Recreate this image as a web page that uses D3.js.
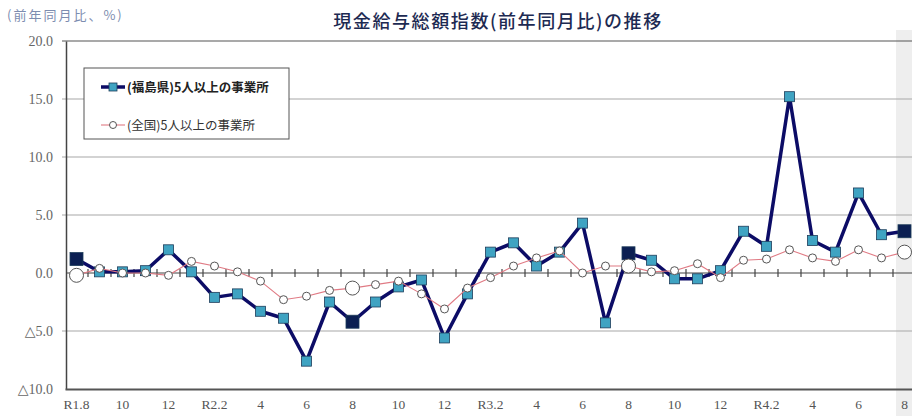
<!DOCTYPE html>
<html>
<head>
<meta charset="utf-8">
<script src="https://cdn.jsdelivr.net/npm/d3@7"></script>
<style>
  html, body { margin: 0; padding: 0; background: #fff; }
  svg { display: block; }
</style>
</head>
<body>
<svg id="chart" width="912" height="416"></svg>
<script>
// Months from R1.8 (Aug 2019) to R4.8 (Aug 2022)
const periods = d3.range(37);
const tickLabels = ["R1.8","10","12","R2.2","4","6","8","10","12","R3.2","4","6","8","10","12","R4.2","4","6","8"];

// Year-on-year change of total cash earnings index (%)
const fukushima = [1.2,0.1,0.1,0.2,2.0,0.1,-2.1,-1.8,-3.3,-3.9,-7.6,-2.5,-4.2,-2.5,-1.2,-0.6,-5.6,-1.8,1.8,2.6,0.6,1.8,4.3,-4.3,1.7,1.1,-0.5,-0.5,0.2,3.6,2.3,15.2,2.8,1.8,6.9,3.3,3.6];
const national  = [-0.2,0.4,0.0,0.0,-0.2,1.0,0.6,0.1,-0.7,-2.3,-2.0,-1.5,-1.3,-1.0,-0.7,-1.8,-3.1,-1.3,-0.4,0.6,1.3,1.9,0.0,0.6,0.6,0.1,0.2,0.8,-0.4,1.1,1.2,2.0,1.3,1.0,2.0,1.3,1.8];

const yTicks = [-10, -5, 0, 5, 10, 15, 20];
const seriesNames = ["(福島県)5人以上の事業所", "(全国)5人以上の事業所"];

const svg = d3.select("#chart");
const jp = "'Noto Sans CJK JP', 'Noto Sans', sans-serif";
const serif = "'Liberation Serif', 'DejaVu Serif', serif";

const x = d3.scaleBand().domain(periods).range([65, 916]).padding(0);
const cx = i => x(i) + x.bandwidth() / 2;
const y = d3.scaleLinear().domain([-10, 20]).range([389, 41]);

// light strip at the right edge
svg.append("rect").attr("x", 896).attr("y", 30).attr("width", 16).attr("height", 386).attr("fill", "#eeeeee");

// title and unit
svg.append("text").attr("x", 498).attr("y", 28).attr("text-anchor", "middle")
  .attr("font-family", jp).attr("font-size", 18).attr("font-weight", 500).attr("fill", "#1d2a52")
  .attr("letter-spacing", 1.6)
  .text("現金給与総額指数(前年同月比)の推移");
svg.append("text").attr("x", 7).attr("y", 20)
  .attr("font-family", jp).attr("font-size", 13).attr("fill", "#7d8db0")
  .attr("letter-spacing", 2)
  .text("(前年同月比、%)");

// horizontal gridlines
svg.append("g").selectAll("line").data(yTicks.filter(v => v !== 0 && v !== -10 && v !== 20)).join("line")
  .attr("x1", 62).attr("x2", 916).attr("y1", d => y(d)).attr("y2", d => y(d))
  .attr("stroke", "#a8a8a8").attr("stroke-width", 1.2);
// top border
svg.append("line").attr("x1", 62).attr("x2", 916).attr("y1", y(20)).attr("y2", y(20))
  .attr("stroke", "#555").attr("stroke-width", 1.2);

// y axis
const yAxis = d3.axisLeft(y).tickValues(yTicks).tickSize(0).tickPadding(13)
  .tickFormat(v => (v < 0 ? "△" + Math.abs(v).toFixed(1) : v.toFixed(1)));
const yg = svg.append("g").attr("transform", "translate(66,0)").call(yAxis);
yg.select(".domain").attr("stroke", "#444").attr("stroke-width", 1.5);
yg.selectAll("text").attr("font-family", serif).attr("font-size", 14).attr("fill", "#666");

// bottom axis
const xAxis = d3.axisBottom(x).tickValues(periods.filter(i => i % 2 === 0)).tickSize(0).tickPadding(10)
  .tickFormat(i => tickLabels[i / 2]);
const xg = svg.append("g").attr("transform", "translate(0," + y(-10) + ")").call(xAxis);
xg.select(".domain").attr("stroke", "#555").attr("stroke-width", 2);
xg.selectAll("text").attr("font-family", serif).attr("font-size", 13.5).attr("fill", "#555");

// zero line with category ticks
svg.append("line").attr("x1", 66).attr("x2", 916).attr("y1", y(0)).attr("y2", y(0))
  .attr("stroke", "#444").attr("stroke-width", 1.2);
svg.append("g").selectAll("line").data(periods.slice(1)).join("line")
  .attr("x1", d => x(d)).attr("x2", d => x(d)).attr("y1", y(0) - 4).attr("y2", y(0) + 4)
  .attr("stroke", "#444").attr("stroke-width", 1.2);

const isAug = i => i % 12 === 0;

// Fukushima series
const line = d3.line().x((d, i) => cx(i)).y(d => y(d));
svg.append("path").datum(fukushima).attr("d", line)
  .attr("fill", "none").attr("stroke", "#0c0c66").attr("stroke-width", 3.5).attr("stroke-linejoin", "round");
svg.append("g").selectAll("rect").data(fukushima).join("rect")
  .attr("x", (d, i) => cx(i) - (isAug(i) ? 6.5 : 5))
  .attr("y", (d, i) => y(d) - (isAug(i) ? 6.5 : 5))
  .attr("width", (d, i) => isAug(i) ? 13 : 10)
  .attr("height", (d, i) => isAug(i) ? 13 : 10)
  .attr("fill", (d, i) => isAug(i) ? "#0b1f52" : "#3fa3c2")
  .attr("stroke", "#1d3c5a").attr("stroke-width", 0.8);

// National series
svg.append("path").datum(national).attr("d", line)
  .attr("fill", "none").attr("stroke", "#e07a84").attr("stroke-width", 1.1);
svg.append("g").selectAll("circle").data(national).join("circle")
  .attr("cx", (d, i) => cx(i)).attr("cy", d => y(d))
  .attr("r", (d, i) => isAug(i) ? 7 : 4)
  .attr("fill", "#fff").attr("stroke", "#555").attr("stroke-width", 1);

// legend
const lg = svg.append("g");
lg.append("rect").attr("x", 84).attr("y", 68).attr("width", 205).attr("height", 71)
  .attr("fill", "#fff").attr("stroke", "#555").attr("stroke-width", 1);
lg.append("line").attr("x1", 101).attr("x2", 125).attr("y1", 87).attr("y2", 87)
  .attr("stroke", "#0c0c66").attr("stroke-width", 3.5);
lg.append("rect").attr("x", 109).attr("y", 83).attr("width", 8).attr("height", 8)
  .attr("fill", "#3fa3c2").attr("stroke", "#1d3c5a").attr("stroke-width", 0.8);
lg.append("text").attr("x", 127).attr("y", 91.5).attr("font-family", jp).attr("font-size", 12.5)
  .attr("font-weight", 700).attr("fill", "#222").text(seriesNames[0]);
lg.append("line").attr("x1", 101).attr("x2", 125).attr("y1", 125).attr("y2", 125)
  .attr("stroke", "#e07a84").attr("stroke-width", 1.1);
lg.append("circle").attr("cx", 113).attr("cy", 125).attr("r", 3.5)
  .attr("fill", "#fff").attr("stroke", "#555").attr("stroke-width", 1);
lg.append("text").attr("x", 127).attr("y", 129.5).attr("font-family", jp).attr("font-size", 12.5)
  .attr("fill", "#333").text(seriesNames[1]);
</script>
</body>
</html>
